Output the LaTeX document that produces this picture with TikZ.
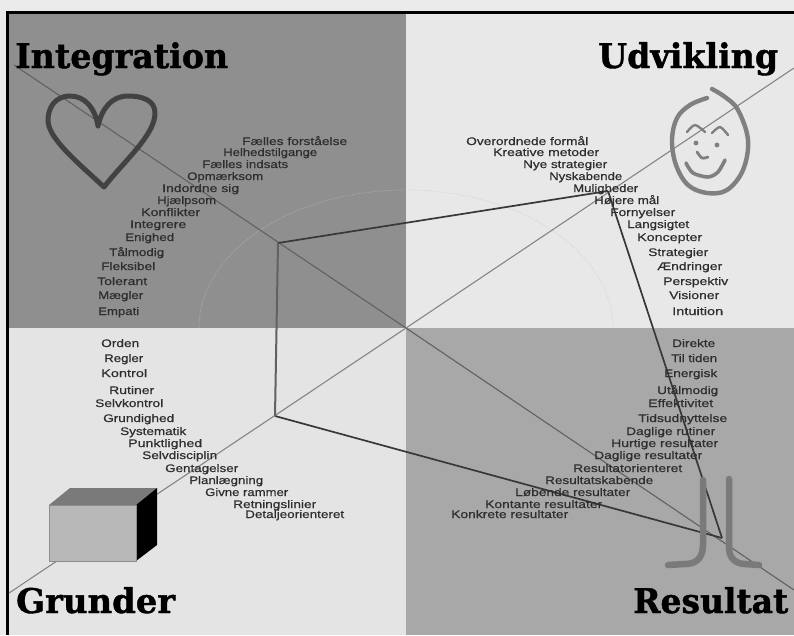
\documentclass[tikz,border=0pt]{standalone}
\usepackage{fontspec}
\usepackage{graphicx}
\setmainfont{Liberation Sans}
\newfontfamily\wordfont[FakeBold=0.5]{Liberation Sans}
\newfontfamily\headfont[BoldFeatures={FakeBold=1.2}]{DejaVu Serif}
\usetikzlibrary{calc}
\definecolor{margin}{HTML}{EBEBEB}
\definecolor{qTL}{HTML}{8F8F8F}
\definecolor{qTR}{HTML}{E8E8E8}
\definecolor{qBL}{HTML}{E4E4E4}
\definecolor{qBR}{HTML}{A8A8A8}
\tikzset{
  wordlabel/.style={anchor=base west,inner sep=0pt,text=black!82,font=\wordfont\fontsize{11}{12}\selectfont},
  headlabel/.style={anchor=base west,inner sep=0pt,text=black,font=\headfont\bfseries\fontsize{34}{38}\selectfont},
  axisline/.style={line width=1.1pt},
  polyline/.style={line width=1.7pt,draw=black!78},
  iconline/.style={line cap=round,line join=round},
}
\begin{document}
\begin{tikzpicture}[x=1pt,y=-1pt]
\useasboundingbox (0,0) rectangle (794,635);
\fill[margin] (0,0) rectangle (794,635);
% quadrants
\fill[qTL] (9,14) rectangle (406,328);
\fill[qTR] (406,14) rectangle (794,328);
\fill[qBL] (9,328) rectangle (406,635);
\fill[qBR] (406,328) rectangle (794,635);
% frame
\fill[black] (6,11) rectangle (794,14);
\fill[black] (6,11) rectangle (9,635);
% faint arc
\draw[line width=0.8pt,white,opacity=.25,densely dotted] (199,328) arc[start angle=180,end angle=270,x radius=207,y radius=138];
\draw[line width=0.8pt,black,opacity=.08,densely dotted] (406,190) arc[start angle=270,end angle=360,x radius=207,y radius=138];
% coordinates
\coordinate (ctr) at (406,328);
\coordinate (nw) at (14,65);
\coordinate (se) at (794,590);
\coordinate (sw) at (9,593);
\coordinate (ne) at (794,68);
\coordinate (pI) at (278,243);
\coordinate (pU) at (608,191);
\coordinate (pR) at (722,538);
\coordinate (pG) at (275,416);
% axes
\draw[axisline,draw=black!62] (nw) -- (ctr);
\draw[axisline,draw=black!62] (ctr) -- (se);
\draw[axisline,draw=black!48] (sw) -- (ctr);
\draw[axisline,draw=black!48] (ctr) -- (ne);
% polygon
\draw[polyline] (pI) -- (pU);
\draw[polyline] (pU) -- (pR);
\draw[polyline] (pR) -- (pG);
\draw[polyline,draw=black!62,line width=2pt] (pG) -- (pI);
% heart
\draw[iconline,draw=black!74,line width=5pt] (98,126) .. controls (95,108) and (85,96) .. (70,96) .. controls (55,96) and (48,108) .. (48,120) .. controls (48,138) and (75,160) .. (104,187) .. controls (125,160) and (155,135) .. (155,113) .. controls (155,100) and (142,96) .. (128,96) .. controls (112,96) and (102,108) .. (98,126);
% smiley
\draw[iconline,draw=black!50,line width=4.4pt] plot[smooth,tension=.6] coordinates {(707,98) (690,105) (677,118) (672,140) (676,165) (688,185) (707,193) (727,190) (743,170) (748,140) (738,110) (725,97) (712,89)};
\draw[iconline,draw=black!50,line width=2.4pt] plot[smooth] coordinates {(687,132) (695,125) (705,132)};
\draw[iconline,draw=black!50,line width=2.4pt] plot[smooth] coordinates {(712,133) (720,127) (728,135)};
\fill[black!50] (696,143) circle (2.4);
\fill[black!50] (717,145) circle (2.4);
\draw[iconline,draw=black!50,line width=2.8pt] plot[smooth] coordinates {(697,152) (702,158) (708,157)};
\draw[iconline,draw=black!50,line width=3.6pt] plot[smooth] coordinates {(686,163) (693,173) (708,177) (718,172) (725,160)};
% box
\fill[black!52] (49,505) -- (70,488) -- (157,488) -- (136,505) -- cycle;
\fill[black] (136,505) -- (157,488) -- (157,545) -- (136,561) -- cycle;
\filldraw[fill=black!28,draw=black!45,line width=1pt] (49,505) rectangle (136,561);
% tulip
\draw[iconline,draw=black!52,line width=6.5pt] (703,480) -- (703,545) .. controls (703,558) and (696,564) .. (685,564) -- (668,565);
\draw[iconline,draw=black!52,line width=6.5pt] (729,479) -- (729,548) .. controls (729,558) and (736,564) .. (745,564) -- (759,565);
% word lists
\foreach \x/\w/\y/\t [count=\i] in {
 242/105/141/Fælles forståelse,223/94/152/Helhedstilgange,202/86/164/Fælles indsats,187/76/176/Opmærksom,162/77/188/Indordne sig,157/59/200/Hjælpsom,141/59/212/Konflikter,130/56/224/Integrere,125/49/237/Enighed,109/55/252/Tålmodig,101/54/266/Fleksibel,97/50/281/Tolerant,98/45/295/Mægler,98/41/311/Empati,
 466/122/141/Overordnede formål,493/106/152/Kreative metoder,523/84/164/Nye strategier,549/73/176/Nyskabende,573/65/188/Muligheder,594/65/200/Højere mål,610/65/212/Fornyelser,627/62/224/Langsigtet,637/65/237/Koncepter,648/60/252/Strategier,657/65/266/Ændringer,663/65/281/Perspektiv,669/50/295/Visioner,672/51/311/Intuition,
 101/38/343/Orden,104/39/358/Regler,101/46/373/Kontrol,109/45/390/Rutiner,95/68/403/Selvkontrol,103/71/418/Grundighed,120/66/431/Systematik,128/74/443/Punktlighed,142/75/455/Selvdisciplin,165/73/468/Gentagelser,189/74/480/Planlægning,205/83/492/Givne rammer,233/83/504/Retningslinier,245/99/514/Detaljeorienteret,
 672/43/343/Direkte,671/46/358/Til tiden,664/53/373/Energisk,657/61/390/Utålmodig,648/65/403/Effektivitet,638/89/418/Tidsudnyttelse,626/89/431/Daglige rutiner,611/107/443/Hurtige resultater,594/108/455/Daglige resultater,573/109/468/Resultatorienteret,545/108/480/Resultatskabende,515/115/492/Løbende resultater,485/117/504/Kontante resultater,451/117/514/Konkrete resultater}
 {\node[wordlabel] (w\i) at (\x,\y+4) {\resizebox{\w pt}{\height}{\t}};}
% headings
\node[headlabel] (hI) at (15,68) {\resizebox{213pt}{\height}{Integration}};
\node[headlabel] (hU) at (598,68) {\resizebox{180pt}{\height}{Udvikling}};
\node[headlabel] (hG) at (16,613) {\resizebox{159pt}{\height}{Grunder}};
\node[headlabel] (hR) at (633,613) {\resizebox{155pt}{\height}{Resultat}};
\end{tikzpicture}
\end{document}
